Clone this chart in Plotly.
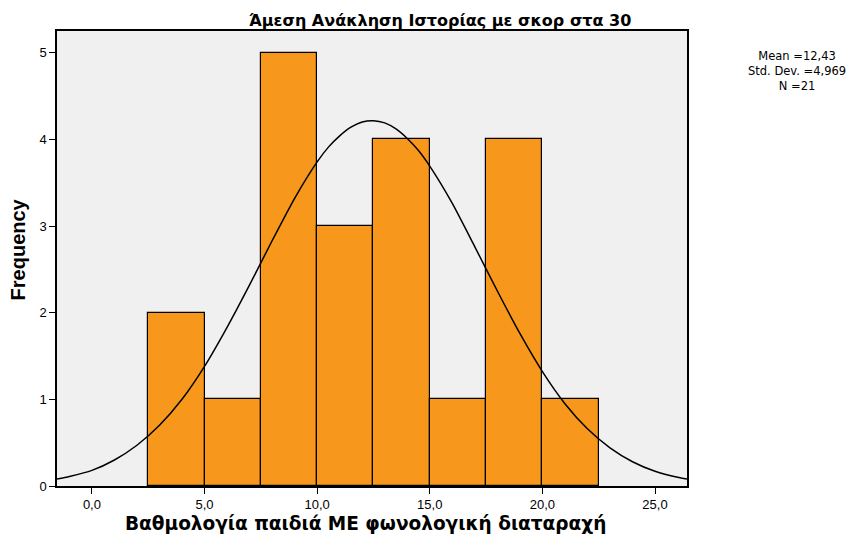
import plotly.graph_objects as go

# histogram bins (lower edge, width 2.5) and counts
bin_lows = [2.5, 5.0, 7.5, 10.0, 12.5, 15.0, 17.5, 20.0]
bin_width = 2.5
counts = [2, 1, 5, 3, 4, 1, 4, 1]

# normal curve
curve_x = [-1.55, -1, 0, 1, 2, 3, 4, 5, 6, 7, 8, 9, 10, 10.5, 11, 11.5, 12, 12.5,
           13, 13.5, 14, 14.5, 15, 16, 17, 18, 19, 20, 21, 22, 23, 24, 25, 26, 26.42]
curve_y = [0.08, 0.11, 0.18, 0.30, 0.47, 0.70, 1.00, 1.38, 1.83, 2.32, 2.83, 3.32, 3.74,
           3.91, 4.04, 4.14, 4.20, 4.215, 4.19, 4.12, 4.01, 3.87, 3.69, 3.26, 2.76, 2.25,
           1.76, 1.32, 0.95, 0.66, 0.44, 0.28, 0.17, 0.10, 0.08]

x_ticks = [0, 5, 10, 15, 20, 25]
x_tick_labels = ["0,0", "5,0", "10,0", "15,0", "20,0", "25,0"]
y_ticks = [0, 1, 2, 3, 4, 5]
stats_lines = ["Mean =12,43", "Std. Dev. =4,969", "N =21"]

FONT = "Liberation Sans, Arial, sans-serif"
WIDE = "DejaVu Sans, Liberation Sans, sans-serif"

fig = go.Figure()
fig.add_bar(
    x=[lo + bin_width / 2 for lo in bin_lows],
    y=counts,
    width=bin_width,
    marker=dict(color="#F7981D", line=dict(color="black", width=1.2)),
    showlegend=False,
)
fig.add_scatter(
    x=curve_x, y=curve_y, mode="lines",
    line=dict(color="black", width=1.5, shape="spline", smoothing=0.6),
    showlegend=False,
)

axis_common = dict(
    showgrid=False, zeroline=False, showline=True, linecolor="black", linewidth=1.5,
    mirror=True, ticks="outside", ticklen=6, tickcolor="black", tickwidth=1.2,
    tickfont=dict(family=FONT, size=13, color="black"),
)
fig.update_xaxes(
    range=[-1.55, 26.42], tickvals=x_ticks, ticktext=x_tick_labels, **axis_common,
)
fig.update_yaxes(range=[0, 5.25], tickvals=y_ticks, **axis_common)

annotations = [
    dict(text="<b>Άμεση Ανάκληση Ιστορίας με σκορ στα 30</b>", xref="paper", yref="paper",
         x=0.608, y=1, yanchor="bottom", yshift=-1, showarrow=False,
         font=dict(family=WIDE, size=16, color="black")),
    dict(text="<b>Βαθμολογία παιδιά ΜΕ φωνολογική διαταραχή</b>", xref="paper", yref="paper",
         x=0.489, y=0, yanchor="top", yshift=-25, showarrow=False,
         font=dict(family=WIDE, size=18.5, color="black")),
    dict(text="<b>Frequency</b>", xref="paper", yref="paper", textangle=-90,
         x=0, y=0.52, xanchor="center", xshift=-39, showarrow=False,
         font=dict(family="Liberation Sans Narrow, Arial Narrow, " + FONT, size=20, color="black")),
    dict(text="<br>".join(stats_lines), xref="paper", yref="paper",
         x=1, xshift=110, y=1, yshift=-17, xanchor="center", yanchor="top",
         align="center", showarrow=False, borderpad=0,
         font=dict(family=WIDE, size=11.5, color="black")),
]

# page body has an 8px margin, so the figure is 8px smaller than the window
fig.update_layout(
    width=852, height=529,
    margin=dict(l=49, r=173, t=23, b=51, autoexpand=False),
    plot_bgcolor="#F0F0F0", paper_bgcolor="white",
    bargap=0,
    annotations=annotations,
)

fig.write_html("out.html")
